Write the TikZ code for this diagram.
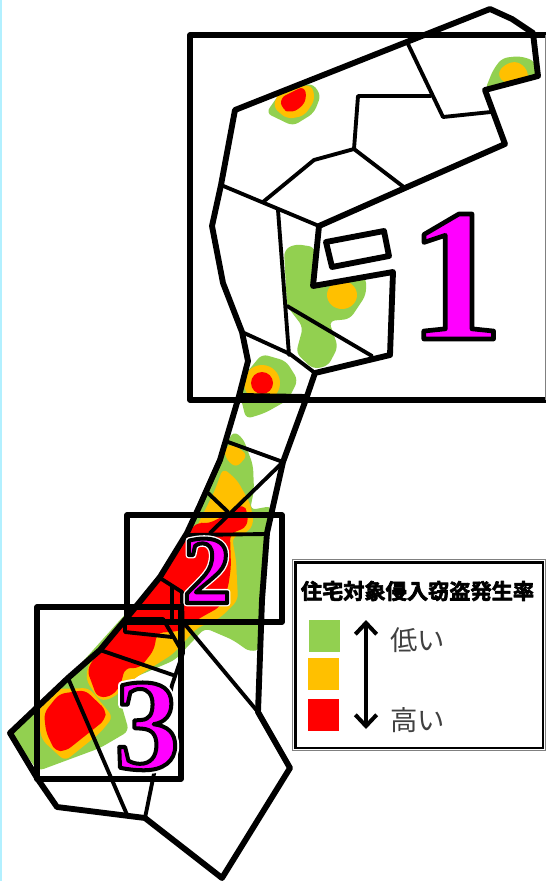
\documentclass[tikz,border=0pt]{standalone}
\usepackage{fontspec}
\usetikzlibrary{arrows.meta}
\setmainfont{Liberation Serif}
\newfontfamily\digitfont{Liberation Serif}[Scale=1,UprightFont=* Bold]
\newfontfamily\jpfont{Noto Sans CJK JP}
\newfontfamily\jpboldfont{Noto Sans CJK JP Bold}
\definecolor{lowc}{HTML}{92D050}
\definecolor{midc}{HTML}{FFC000}
\definecolor{highc}{HTML}{FF0000}
\newcommand{\strokedigit}[4]{\fontsize{#1}{#1}\digitfont\special{pdf:code 1 j 2 Tr #3 w #4}#2\special{pdf:code 0 Tr}}
\tikzset{
  x=0.75pt,y=-0.75pt,
  blob/.style={rounded corners=4.5pt},
  outline/.style={draw=black,line width=4.4pt,line join=round,line cap=round},
  inner/.style={draw=black,line width=2.9pt,line join=round,line cap=round},
  zonebox/.style={draw=black,line width=4.2pt,line join=round},
  digit/.style={inner sep=0pt,anchor=base},
  swatch/.style={inner sep=0pt,minimum width=23.25pt,minimum height=24pt,anchor=north west},
  lowblob/.style={blob,fill=lowc},
  midblob/.style={blob,fill=midc},
  highblob/.style={blob,fill=highc},
  barb/.tip={Straight Barb[length=8.5pt,width=16pt,line width=3pt]}
}
\begin{document}
\begin{tikzpicture}
\useasboundingbox (0,0) rectangle (546,881);
\fill[white] (0,0) rectangle (546,881);
\fill[blue!20!cyan!30] (0,0) rectangle (1.5,881);
% heat map
\path[lowblob] (266,113) -- (280,93) -- (312,83) -- (321,95) -- (314,113) -- (293,126) -- cycle;
\path[midblob] (273,107) -- (280,89) -- (312,85) -- (315,100) -- (304,116) -- (287,119) -- cycle;
\path[highblob] (280,98) -- (304,86) -- (307,98) -- (301,108) -- (290,113) -- (282,109) -- cycle;
\path[lowblob] (485,90) -- (493,70) -- (502,58) -- (520,56) -- (535,61) -- (537,76) -- cycle;
\path[midblob] (497,74) -- (505,64) -- (518,61) -- (529,72) -- (527,80) -- (505,84) -- cycle;
\path[lowblob] (284,250) -- (295,244) -- (315,247) -- (313,286) -- (366,277) -- (366,295) -- (350,319) -- (329,321) -- (338,347) -- (328,366) -- (313,369) -- (296,353) -- (303,327) -- (287,306) -- cycle;
\fill[midc] (342,295) ellipse (15 and 14);
\path[lowblob] (243,377) -- (262,354) -- (286,361) -- (298,380) -- (288,400) -- (265,413) -- (246,419) -- (240,395) -- cycle;
\fill[midc] (262,383) circle (18);
\fill[highc] (262,383) circle (11);
\path[lowblob] (233,431) -- (243,438) -- (253,465) -- (254,490) -- (250,510) -- (272,506) -- (267,535) -- (262,600) -- (261,649) -- (250,652) -- (233,640) -- (205,628) -- (175,660) -- (133,678) -- (120,700) -- (129,731) -- (100,748) -- (38,771) -- (10,733) -- (68,678) -- (120,620) -- (160,577) -- (190,530) -- (208,493) -- (220,460) -- cycle;
\path[midblob] (225,447) -- (233,444) -- (248,455) -- (236,468) -- (225,458) -- cycle;
\path[midblob] (223,468) -- (237,480) -- (250,503) -- (254,523) -- (247,533) -- (232,537) -- (236,560) -- (238,600) -- (220,618) -- (197,628) -- (173,654) -- (135,678) -- (113,698) -- (100,701) -- (86,680) -- (88,665) -- (100,650) -- (130,620) -- (180,560) -- (205,510) -- (215,490) -- cycle;
\path[highblob] (198,522) -- (207,524) -- (220,518) -- (243,504) -- (248,513) -- (247,527) -- (230,534) -- (231,567) -- (228,588) -- (220,607) -- (200,618) -- (180,631) -- (157,633) -- (154,650) -- (140,668) -- (125,668) -- (120,687) -- (110,697) -- (97,697) -- (87,670) -- (98,652) -- (125,620) -- (147,593) -- (160,577) -- (187,533) -- cycle;
\path[midblob] (36,710) -- (54,689) -- (89,688) -- (113,717) -- (100,733) -- (65,761) -- (42,740) -- cycle;
\path[highblob] (44,713) -- (59,694) -- (85,690) -- (106,710) -- (105,720) -- (66,751) -- (55,751) -- (46,732) -- cycle;
% interior boundaries
\draw[inner] (408,44) -- (443,117) -- (491,112);
\draw[inner] (431,96) -- (358,96) -- (354,149) -- (314,160) -- (263,202);
\draw[inner] (354,149) -- (405,188);
\draw[inner] (221,185) -- (319,226);
\draw[inner] (278,210) -- (289,355);
\draw[inner] (287,306) -- (372,356);
\draw[inner] (242,332) -- (290,354) -- (315,373);
\draw[inner] (242,395) -- (307,396);
\draw[inner] (228,442) -- (283,462) -- (210,533);
\draw[inner] (208,493) -- (228,512);
\draw[inner] (188,535) -- (267,534);
\draw[inner] (160,578) -- (182,592) -- (183,653) -- (172,685);
\draw[inner] (172,587) -- (172,620);
\draw[inner] (125,619) -- (163,619) -- (183,653);
\draw[inner] (125,619) -- (125,632) -- (172,637);
\draw[inner] (100,650) -- (173,675);
\draw[inner] (68,678) -- (128,817);
\draw[inner] (172,685) -- (145,818);
\draw[inner] (183,622) -- (258,712);
% coastline
\draw[outline] (490,9) -- (512,19) -- (533,33) -- (538,76) -- (485,90) -- (505,144) -- (405,188) -- (319,226) -- (313,286) -- (393,272) -- (390,355) -- (315,373) -- (305,402) -- (283,462) -- (267,533) -- (262,600) -- (258,712) -- (290,768) -- (222,878) -- (145,818) -- (57,807) -- (37,778) -- (10,733) -- (68,678) -- (100,650) -- (125,620) -- (160,577) -- (187,533) -- (200,505) -- (220,460) -- (239,396) -- (248,361) -- (242,332) -- (223,283) -- (212,226) -- (221,185) -- (235,110) -- cycle;
\draw[outline] (326,242) -- (384,231) -- (389,256) -- (332,267) -- cycle;
% zones
\draw[zonebox] (546,35) -- (190,35) -- (190,400) -- (546,400);
\draw[gray,line width=0.8pt] (545.5,35) -- (545.5,400);
\draw[zonebox] (127,515) rectangle (282,622);
\draw[zonebox] (37,607) rectangle (181,779);
% zone numbers
\node[digit] (numa) at (456,339) {\strokedigit{142}{1}{3.5}{0 0 0 RG 1 0 1 rg}};
\node[digit] (numbh) at (207,603) {\strokedigit{73}{2}{5}{1 1 1 RG 1 1 1 rg}};
\node[digit] (numb) at (207,603) {\strokedigit{73}{2}{3}{0 0 0 RG 1 0 1 rg}};
\node[digit] (numch) at (147,769) {\strokedigit{98}{3}{6}{1 1 1 RG 1 1 1 rg}};
\node[digit] (numc) at (147,769) {\strokedigit{98}{3}{3}{0 0 0 RG 1 0 1 rg}};
% legend
\draw[gray,line width=0.8pt] (292.5,559.5) rectangle (545.5,750.5);
\draw[black,line width=2.2pt] (295.5,562.5) rectangle (543,748);
\node[inner sep=0pt,font=\jpboldfont\fontsize{15.9}{18}\selectfont] (title) at (417.5,591) {\special{pdf:code 1 j 2 Tr 0.5 w 0 0 0 RG}住宅対象侵入窃盗発生率\special{pdf:code 0 Tr}};
\node[swatch,fill=lowc] (swa) at (309,620) {};
\node[swatch,fill=midc] (swb) at (308,658) {};
\node[swatch,fill=highc] (swc) at (308,699) {};
\coordinate (arrowtop) at (366,620);
\coordinate (arrowbot) at (366,729);
\draw[line width=3pt,{barb}-{barb}] (arrowtop) -- (arrowbot);
\node[inner sep=0pt,anchor=west,text=black!75,font=\jpfont\fontsize{20.5}{24}\selectfont] (low) at (390,640) {低い};
\node[inner sep=0pt,anchor=west,text=black!75,font=\jpfont\fontsize{20.5}{24}\selectfont] (high) at (390,720) {高い};
\end{tikzpicture}
\end{document}
